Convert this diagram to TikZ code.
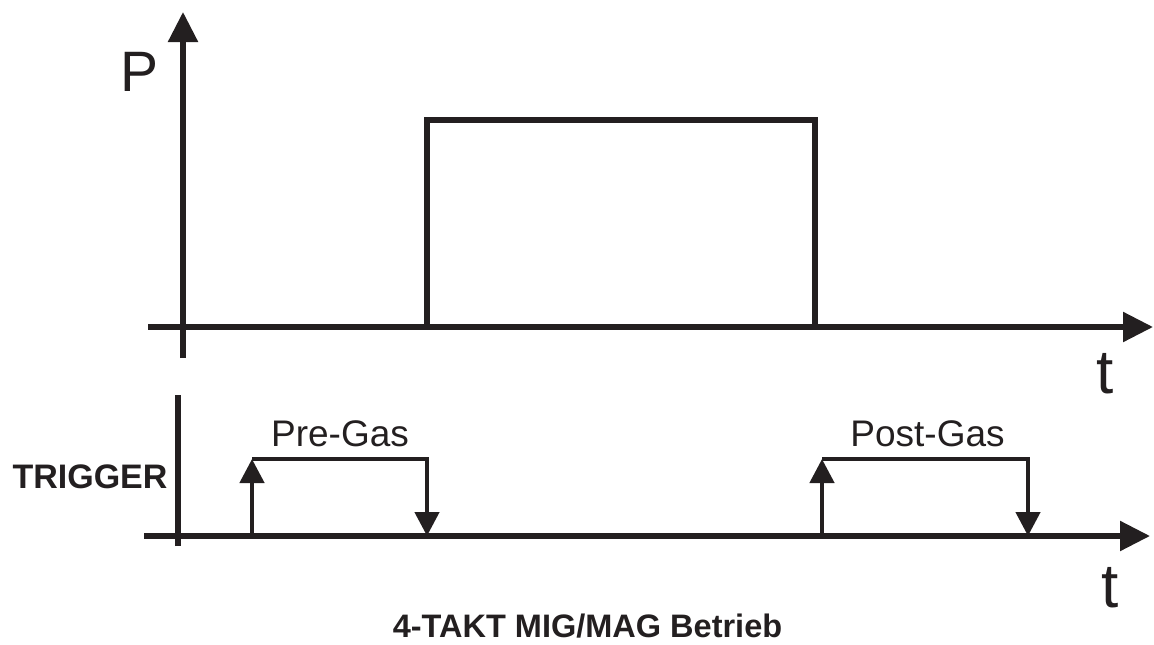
\documentclass[tikz,border=0pt]{standalone}
\usepackage{fontspec}
\setmainfont{Liberation Sans}
\usetikzlibrary{arrows.meta}
\definecolor{ink}{HTML}{231F20}
\tikzset{
  axisline/.style={draw=ink, line width=5.5pt},
  pulseline/.style={draw=ink, line width=5.5pt, line join=miter},
  trigline/.style={draw=ink, line width=4.5pt, line join=miter},
  bigtip/.style={-{Triangle[length=30pt,width=29pt]}},
  smalltip/.style={-{Triangle[length=24pt,width=24pt]}},
  lbl/.style={inner sep=0pt, anchor=base, text=ink},
}
\begin{document}
\begin{tikzpicture}[x=1pt,y=-1pt]
\useasboundingbox (0,0) rectangle (1154,645);

% ---- power diagram ----
\coordinate (pv0) at (183,358);
\coordinate (pv1) at (183,12);
\coordinate (ph0) at (148,327);
\coordinate (ph1) at (1153,327);
\draw[axisline,bigtip] (pv0) -- (pv1);
\draw[axisline,bigtip] (ph0) -- (ph1);

\coordinate (r0) at (427,327);
\coordinate (r1) at (427,120);
\coordinate (r2) at (815,120);
\coordinate (r3) at (815,327);
\draw[pulseline] (r0) -- (r1) -- (r2) -- (r3);

\node[lbl, font=\fontsize{57}{57}\selectfont] (P) at (140,91) {P};
\node[lbl, font=\fontsize{62}{62}\selectfont] (t1) at (1105,393) {t};

% ---- trigger diagram ----
\coordinate (tv0) at (178,546);
\coordinate (tv1) at (178,395);
\coordinate (th0) at (144,536);
\coordinate (th1) at (1150,536);
\draw[axisline] (tv0) -- (tv1);
\draw[axisline,bigtip] (th0) -- (th1);

% pre-gas
\coordinate (a0) at (252,536);
\coordinate (a1) at (252,459);
\coordinate (a2) at (427,459);
\coordinate (a3) at (427,536);
\draw[trigline,smalltip] (a0) -- (a1);
\draw[trigline,smalltip] (a1) -- (a2) -- (a3);

% post-gas
\coordinate (b0) at (822,536);
\coordinate (b1) at (822,459);
\coordinate (b2) at (1028,459);
\coordinate (b3) at (1028,536);
\draw[trigline,smalltip] (b0) -- (b1);
\draw[trigline,smalltip] (b1) -- (b2) -- (b3);

\node[lbl, font=\fontsize{37}{37}\selectfont] (pre) at (340,446) {Pre-Gas};
\node[lbl, font=\fontsize{37}{37}\selectfont] (post) at (927.5,446) {Post-Gas};
\node[lbl, font=\fontsize{34}{34}\selectfont\bfseries] (trig) at (90,488) {TRIGGER};
\node[lbl, font=\fontsize{62}{62}\selectfont] (t2) at (1110,607) {t};

\node[lbl, font=\fontsize{32.5}{32.5}\selectfont\bfseries] (title) at (587.5,637) {4-TAKT MIG/MAG Betrieb};
\end{tikzpicture}
\end{document}
